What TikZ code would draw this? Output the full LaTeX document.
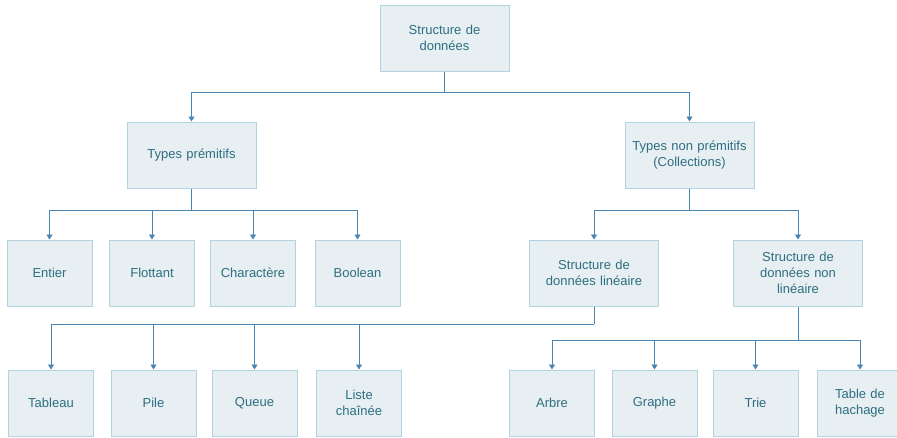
\documentclass[tikz,border=0pt]{standalone}
\usepackage{fontspec}
\setmainfont{Liberation Sans}
\usetikzlibrary{arrows.meta}
\definecolor{boxfill}{HTML}{E7EFF3}
\definecolor{boxdraw}{HTML}{B2D3E2}
\definecolor{txt}{HTML}{2D6E80}
\definecolor{lnk}{HTML}{4A86B4}
\begin{document}
\begin{tikzpicture}[x=1pt,y=-1pt,
  box/.style={draw=boxdraw,fill=boxfill,line width=1pt,text=txt,align=center,
    font=\fontsize{13}{16}\selectfont,inner sep=0pt},
  big/.style={box,minimum width=129pt,minimum height=66pt,text width=120pt},
  small/.style={box,minimum width=85pt,minimum height=66pt,text width=80pt},
  link/.style={draw=lnk,line width=0.9pt},
  arr/.style={link,-{Triangle[length=5pt,width=6pt]}}]
\useasboundingbox (0,0) rectangle (897,437);
\fill[white] (0,0) rectangle (897,437);
% level 1
\node[big] (root) at (444.5,38) {Structure de\\données};
% level 2
\node[big] (prim) at (191.5,155) {Types prémitifs};
\node[big] (nprim) at (689.5,155) {Types non prémitifs\\(Collections)};
% level 3
\node[small] (ent) at (49.5,273) {Entier};
\node[small] (flo) at (152,273) {Flottant};
\node[small] (cha) at (253,273) {Charactère};
\node[small] (boo) at (357.5,273) {Boolean};
\node[big] (lin) at (594,273) {Structure de\\données linéaire};
\node[big] (nlin) at (798,273) {Structure de\\données non\\linéaire};
% level 4
\node[small] (tab) at (51,403) {Tableau};
\node[small] (pil) at (153.5,403) {Pile};
\node[small] (que) at (254.5,403) {Queue};
\node[small] (lis) at (359,403) {Liste\\chaînée};
\node[small] (arb) at (552,403) {Arbre};
\node[small] (gra) at (654.5,403) {Graphe};
\node[small] (tri) at (755.5,403) {Trie};
\node[small] (tha) at (860,403) {Table de\\hachage};
% connectors
\coordinate (j0) at (444.5,92);
\draw[link] (root.south) -- (j0);
\draw[arr] (j0) -| (prim.north);
\draw[arr] (j0) -| (nprim.north);
\coordinate (j1) at (191.5,210);
\draw[link] (prim.south) -- (j1);
\foreach \n in {ent,flo,cha,boo} \draw[arr] (j1) -| (\n.north);
\coordinate (j2) at (689.5,210);
\draw[link] (nprim.south) -- (j2);
\foreach \n in {lin,nlin} \draw[arr] (j2) -| (\n.north);
\coordinate (j3) at (594,324);
\draw[link] (lin.south) -- (j3);
\foreach \n in {tab,pil,que,lis} \draw[arr] (j3) -| (\n.north);
\coordinate (j4) at (798,340);
\draw[link] (nlin.south) -- (j4);
\foreach \n in {arb,gra,tri,tha} \draw[arr] (j4) -| (\n.north);
\end{tikzpicture}
\end{document}
